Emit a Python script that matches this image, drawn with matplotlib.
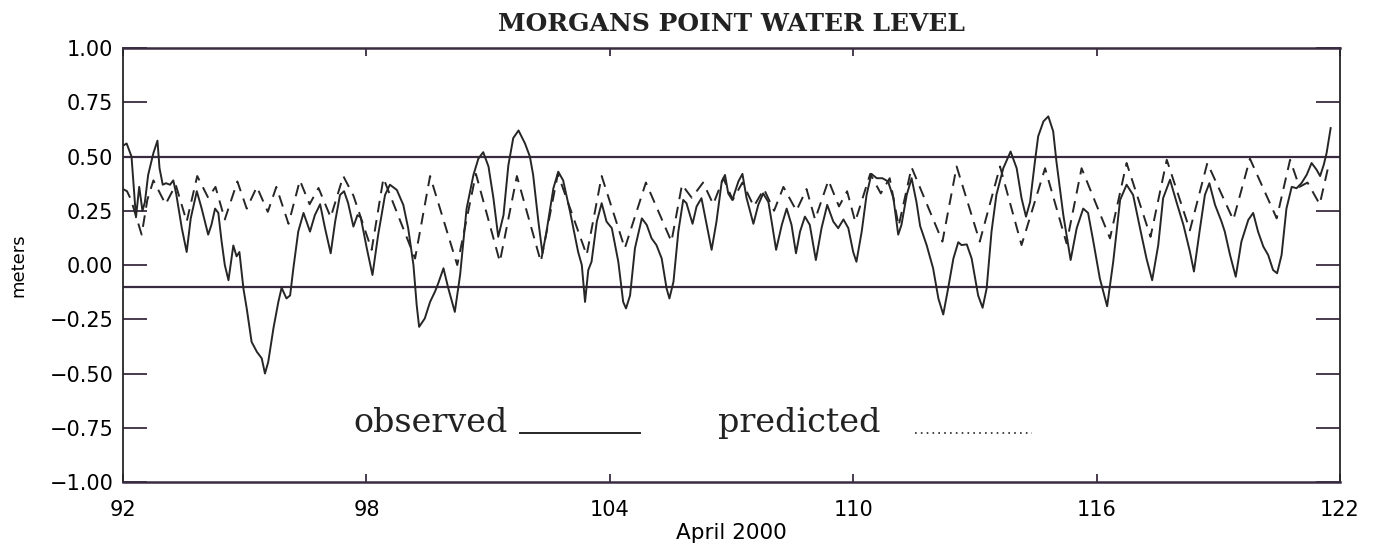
import numpy as np
import matplotlib
matplotlib.use("Agg")
from matplotlib import pyplot as plt

# Observed water level (day of year, meters)
obs_day = [92.00, 92.09, 92.21, 92.32, 92.40, 92.48, 92.54, 92.62, 92.75, 92.85,
           92.90, 92.98, 93.06, 93.16, 93.24, 93.31, 93.45, 93.57, 93.67, 93.82,
           93.94, 94.10, 94.18, 94.27, 94.35, 94.43, 94.51, 94.60, 94.72, 94.80,
           94.87, 94.97, 95.05, 95.17, 95.30, 95.42, 95.50, 95.58, 95.71, 95.83,
           95.91, 96.03, 96.12, 96.20, 96.32, 96.45, 96.61, 96.73, 96.86, 96.98,
           97.12, 97.23, 97.35, 97.45, 97.55, 97.68, 97.78, 97.86, 98.01, 98.15,
           98.29, 98.46, 98.58, 98.75, 98.91, 99.03, 99.16, 99.24, 99.30, 99.44,
           99.57, 99.69, 99.77, 99.90, 100.02, 100.18, 100.31, 100.47, 100.64, 100.76,
           100.88, 101.01, 101.13, 101.25, 101.38, 101.50, 101.62, 101.75, 101.91, 102.03,
           102.11, 102.24, 102.34, 102.44, 102.61, 102.73, 102.85, 103.02, 103.22, 103.31,
           103.39, 103.47, 103.55, 103.68, 103.80, 103.92, 104.05, 104.21, 104.33, 104.40,
           104.50, 104.62, 104.79, 104.91, 105.03, 105.15, 105.28, 105.40, 105.47, 105.57,
           105.69, 105.81, 105.89, 106.04, 106.14, 106.26, 106.39, 106.51, 106.63, 106.76,
           106.84, 106.92, 107.02, 107.17, 107.27, 107.37, 107.54, 107.66, 107.78, 107.91,
           107.99, 108.10, 108.24, 108.36, 108.48, 108.59, 108.69, 108.81, 108.93, 109.08,
           109.22, 109.36, 109.51, 109.63, 109.76, 109.88, 110.00, 110.08, 110.21, 110.33,
           110.45, 110.58, 110.72, 110.86, 110.99, 111.11, 111.19, 111.32, 111.44, 111.56,
           111.65, 111.81, 111.97, 112.10, 112.22, 112.34, 112.47, 112.59, 112.67, 112.80,
           112.92, 113.08, 113.19, 113.29, 113.41, 113.53, 113.70, 113.88, 114.03, 114.15,
           114.26, 114.36, 114.48, 114.56, 114.69, 114.81, 114.93, 115.01, 115.18, 115.36,
           115.51, 115.67, 115.79, 115.92, 116.08, 116.26, 116.41, 116.58, 116.74, 116.90,
           117.07, 117.23, 117.37, 117.52, 117.64, 117.81, 117.97, 118.14, 118.30, 118.40,
           118.55, 118.67, 118.78, 118.92, 119.08, 119.16, 119.29, 119.43, 119.57, 119.74,
           119.86, 119.98, 120.11, 120.23, 120.35, 120.45, 120.56, 120.68, 120.81, 120.93,
           121.05, 121.18, 121.30, 121.42, 121.51, 121.60, 121.67, 121.77]
obs_val = [0.55, 0.56, 0.50, 0.22, 0.36, 0.25, 0.29, 0.415, 0.516, 0.573,
           0.447, 0.37, 0.377, 0.37, 0.39, 0.33, 0.17, 0.06, 0.215, 0.34,
           0.26, 0.14, 0.185, 0.26, 0.24, 0.11, 0.0, -0.07, 0.09, 0.04,
           0.06, -0.11, -0.20, -0.354, -0.40, -0.43, -0.50, -0.447, -0.29, -0.17,
           -0.105, -0.154, -0.14, -0.015, 0.154, 0.24, 0.154, 0.23, 0.28, 0.17,
           0.054, 0.20, 0.323, 0.34, 0.285, 0.177, 0.23, 0.22, 0.077, -0.046,
           0.139, 0.323, 0.37, 0.346, 0.277, 0.17, 0.0, -0.185, -0.285, -0.246,
           -0.17, -0.123, -0.085, -0.015, -0.108, -0.216, -0.046, 0.26, 0.416, 0.49,
           0.52, 0.454, 0.31, 0.13, 0.23, 0.46, 0.585, 0.62, 0.56, 0.50,
           0.416, 0.20, 0.054, 0.154, 0.354, 0.43, 0.39, 0.246, 0.06, 0.0,
           -0.17, -0.023, 0.015, 0.20, 0.285, 0.20, 0.17, 0.015, -0.17, -0.20,
           -0.14, 0.077, 0.215, 0.185, 0.123, 0.092, 0.03, -0.108, -0.154, -0.077,
           0.154, 0.30, 0.285, 0.19, 0.27, 0.308, 0.185, 0.07, 0.20, 0.385,
           0.415, 0.33, 0.30, 0.385, 0.42, 0.31, 0.19, 0.277, 0.33, 0.29,
           0.20, 0.07, 0.185, 0.26, 0.185, 0.054, 0.154, 0.223, 0.185, 0.023,
           0.17, 0.277, 0.20, 0.17, 0.21, 0.17, 0.06, 0.015, 0.154, 0.323,
           0.42, 0.40, 0.40, 0.385, 0.31, 0.14, 0.185, 0.323, 0.40, 0.29,
           0.18, 0.092, -0.015, -0.154, -0.228, -0.108, 0.03, 0.105, 0.092, 0.095,
           0.03, -0.14, -0.197, -0.108, 0.154, 0.323, 0.446, 0.523, 0.446, 0.308,
           0.223, 0.29, 0.477, 0.593, 0.662, 0.685, 0.616, 0.477, 0.23, 0.023,
           0.17, 0.26, 0.24, 0.108, -0.062, -0.19, 0.015, 0.30, 0.37, 0.323,
           0.17, 0.03, -0.07, 0.092, 0.308, 0.393, 0.29, 0.185, 0.062, -0.03,
           0.17, 0.323, 0.377, 0.277, 0.20, 0.154, 0.046, -0.054, 0.108, 0.208,
           0.24, 0.154, 0.085, 0.046, -0.023, -0.038, 0.046, 0.26, 0.36, 0.354,
           0.377, 0.416, 0.47, 0.44, 0.41, 0.462, 0.516, 0.631]

# Predicted tide (day of year, meters)
pred_day = [92.00, 92.10, 92.20, 92.46, 92.60, 92.75, 93.05, 93.30, 93.57, 93.83,
            94.10, 94.28, 94.51, 94.82, 95.05, 95.30, 95.57, 95.78, 96.08, 96.36,
            96.60, 96.82, 97.12, 97.43, 97.68, 98.13, 98.42, 99.20, 99.57, 100.24,
            100.70, 101.29, 101.71, 102.30, 102.72, 103.43, 103.80, 104.37, 104.89, 105.52,
            105.78, 106.02, 106.30, 106.55, 106.80, 107.03, 107.27, 107.55, 107.80, 108.05,
            108.28, 108.60, 108.85, 109.06, 109.39, 109.65, 109.85, 110.05, 110.42, 110.68,
            110.90, 111.12, 111.44, 112.20, 112.55, 113.12, 113.62, 114.15, 114.73, 115.26,
            115.63, 116.33, 116.74, 117.33, 117.73, 118.30, 118.73, 119.37, 119.78, 120.44,
            120.77, 121.00, 121.20, 121.50, 121.72]
pred_val = [0.35, 0.34, 0.30, 0.14, 0.30, 0.39, 0.28, 0.37, 0.20, 0.41,
            0.31, 0.36, 0.21, 0.385, 0.26, 0.36, 0.245, 0.36, 0.19, 0.39,
            0.28, 0.355, 0.22, 0.41, 0.32, 0.07, 0.40, 0.03, 0.41, 0.0,
            0.42, 0.015, 0.41, 0.015, 0.42, 0.046, 0.41, 0.077, 0.38, 0.108,
            0.37, 0.31, 0.38, 0.28, 0.40, 0.30, 0.38, 0.27, 0.35, 0.25,
            0.36, 0.25, 0.35, 0.21, 0.39, 0.27, 0.34, 0.20, 0.42, 0.33,
            0.40, 0.18, 0.45, 0.108, 0.454, 0.108, 0.454, 0.092, 0.446, 0.10,
            0.446, 0.123, 0.47, 0.13, 0.485, 0.16, 0.47, 0.208, 0.49, 0.215,
            0.485, 0.36, 0.38, 0.28, 0.46]

x_ticks = [92, 98, 104, 110, 116, 122]
y_ticks = [-1.00, -0.75, -0.50, -0.25, 0.00, 0.25, 0.50, 0.75, 1.00]
ref_levels = [0.50, -0.10]

frame = '#3a2c40'
ink = '#262626'

fig = plt.figure(figsize=(13.85, 5.5), dpi=100)
ax = fig.add_axes([0.0888, 0.1236, 0.8787, 0.7891])

# Reference lines
for lv in ref_levels:
    ax.axhline(lv, color=frame, lw=1.6, zorder=1)

ax.plot(obs_day, obs_val, color=ink, lw=1.4, zorder=3)
ax.plot(pred_day, pred_val, color=ink, lw=1.4, dashes=(6, 4), zorder=2)

ax.set_xlim(92, 122)
ax.set_ylim(-1.0, 1.0)
ax.set_xticks(x_ticks)
ax.set_yticks(y_ticks)
ax.set_yticklabels(['\u22121.00', '\u22120.75', '\u22120.50', '\u22120.25', '0.00',
                    '0.25', '0.50', '0.75', '1.00'])

ax.tick_params(axis='y', which='both', direction='in', length=17, width=1.3,
               left=True, right=True, labelsize=15, pad=7, color=frame)
ax.tick_params(axis='x', which='both', direction='in', length=6, width=1.3,
               top=True, bottom=True, labelsize=15, pad=13, color=frame)

for s in ['left', 'right']:
    ax.spines[s].set_color(ink)
    ax.spines[s].set_linewidth(1.3)
for s in ['top', 'bottom']:
    ax.spines[s].set_color(frame)
    ax.spines[s].set_linewidth(1.8)

ax.set_xlabel('April 2000', fontsize=15.5, labelpad=2)
ax.set_ylabel('meters', fontsize=13, labelpad=16)
ax.set_title('MORGANS POINT WATER LEVEL', family='DejaVu Serif', fontsize=18,
             fontweight='bold', pad=12, color='#222222')

# Hand-drawn style legend inside the plot
ax.text(0.189, 0.115, 'observed', transform=ax.transAxes, family='DejaVu Serif',
        fontsize=24, va='baseline', ha='left', color='#222222')
ax.plot([0.326, 0.425], [0.113, 0.113], transform=ax.transAxes, color=ink, lw=1.4)
ax.text(0.489, 0.115, 'predicted', transform=ax.transAxes, family='DejaVu Serif',
        fontsize=24, va='baseline', ha='left', color='#222222')
ax.plot([0.651, 0.747], [0.113, 0.113], transform=ax.transAxes, color=ink, lw=1.2,
        dashes=(1, 2.5))

plt.savefig('out.png', dpi=100)
